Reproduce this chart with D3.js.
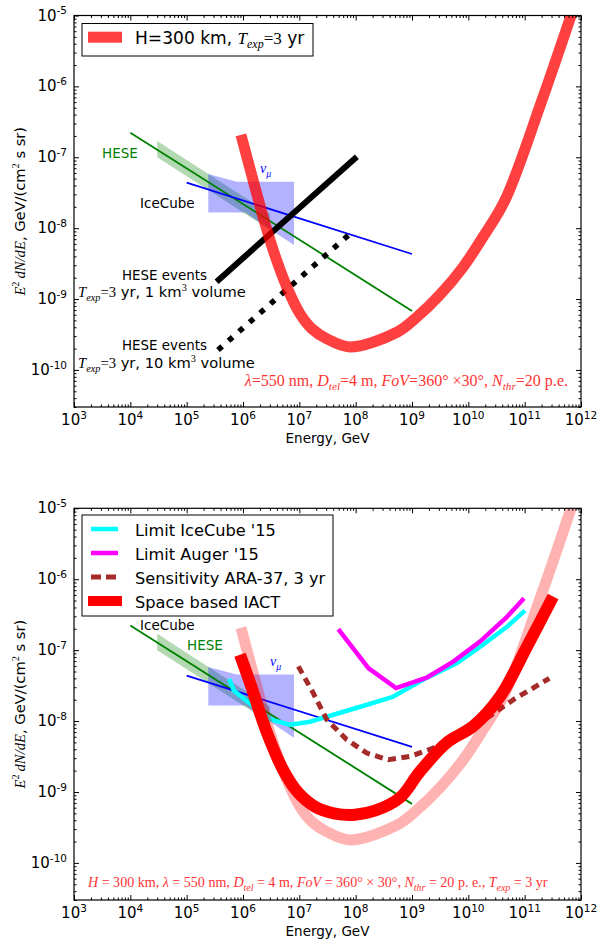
<!DOCTYPE html>
<html><head><meta charset="utf-8">
<script src="https://cdn.jsdelivr.net/npm/d3@7"></script>
<style>body{margin:0;background:#fff}</style>
</head><body>
<script>
// ---------------- data ----------------
const xTickExp=[3,4,5,6,7,8,9,10,11,12];
const yTickExp=[-10,-9,-8,-7,-6,-5];
// HESE best fit line and band
const heseLineE=[1e4,1e9], heseLineF=[2.22e-7,6.8e-10];
const heseBandE=[3e4,3e6,3e6,3e4], heseBandF=[1.7e-7,1.6e-8,9.5e-9,1.0e-7];
// IceCube nu_mu line and band
const numuLineE=[1e5,1e9], numuLineF=[4.38e-8,4.32e-9];
const numuBandE=[2.42e5,7.73e5,8.05e6,8.05e6,1.09e6,2.42e5];
const numuBandF=[5.8e-8,4.53e-8,4.53e-8,5.8e-9,1.66e-8,1.66e-8];
// HESE events, 1 km3 and 10 km3
const hese1E=[3.4e5,1.05e8], hese1F=[1.76e-9,1.02e-7];
const hese10E=[3.6e5,8.6e7], hese10F=[1.91e-10,8.8e-9];
// H=300 km, T=3 yr sensitivity
const h300E=[9.2e5,1.63e6,2.36e6,3.56e6,6.0e6,1.03e7,1.68e7,3.1e7,7.9e7,5.4e8,1.23e9,3.1e9,8.1e9,1.82e10,4.5e10,2.03e11,6.6e11,8.5e11];
const h300F=[2.07e-7,3.8e-8,1.3e-8,4.5e-9,1.48e-9,6.17e-10,3.79e-10,2.74e-10,2.11e-10,3.4e-10,5.6e-10,1.14e-9,2.84e-9,7.5e-9,2.5e-8,6.4e-7,9.8e-6,1.8e-5];
// Space based IACT
const iactE=[8.85e5,1.33e6,2.67e6,5.13e6,9.5e6,1.9e7,4.3e7,9.7e7,2.2e8,6.1e8,1.39e9,4.2e9,1.21e10,3.66e10,1.1e11,3.2e11];
const iactF=[8.6e-8,3.47e-8,6.8e-9,2.07e-9,9.8e-10,6.2e-10,4.96e-10,4.79e-10,5.45e-10,8.3e-10,1.95e-9,5.0e-9,8.4e-9,2.22e-8,1.12e-7,5.7e-7];
// Limit IceCube '15
const icE=[5.65e5,6.92e5,1.04e6,1.85e6,3.27e6,6.8e6,1.55e7,5.3e7,1.59e8,4.6e8,1.57e9,6.3e9,1.82e10,4.9e10,1.01e11];
const icF=[3.94e-8,2.67e-8,2.06e-8,1.44e-8,1.04e-8,8.9e-9,9.8e-9,1.31e-8,1.70e-8,2.20e-8,3.82e-8,6.6e-8,1.19e-7,2.15e-7,3.6e-7];
// Limit Auger '15
const augE=[4.92e7,1.68e8,5.2e8,1.82e9,5.4e9,1.61e10,4.8e10,9.75e10];
const augF=[1.98e-7,5.6e-8,2.92e-8,4.1e-8,6.9e-8,1.32e-7,2.92e-7,5.4e-7];
// Sensitivity ARA-37, 3 yr
const araE=[9.6e6,1.77e7,3.06e7,6.9e7,1.57e8,3.8e8,9.2e8,2.39e9,7.1e9,2.12e10,6.3e10,2.74e11];
const araF=[5.9e-8,2.48e-8,1.05e-8,5.5e-9,3.54e-9,2.85e-9,3.17e-9,4.17e-9,6.8e-9,1.1e-8,2.0e-8,4.0e-8];

// ---------------- drawing ----------------
const W=603,H=939;
const SANS="'DejaVu Sans', sans-serif", SERIF="'Liberation Serif','DejaVu Serif', serif";
const svg=d3.select("body").append("svg").attr("width",W).attr("height",H).style("display","block");
const L=74,R=581;
const x=d3.scaleLog().domain([1e3,1e12]).range([L,R]);
const zip=(a,b)=>a.map((v,i)=>[v,b[i]]);

function rich(g,px,py,parts,size,o={}){
  const draw=s=>{
    const t=g.append("text").attr("x",px).attr("y",py).attr("fill",o.color||"#000")
      .attr("text-anchor",o.anchor||"start").style("font-size",s+"px");
    let off=0;
    for(const p of parts){
      const fs=(p.sub||p.sup)?s*0.7:s;
      const tgt=p.sub?s*0.28:p.sup?-s*0.42:0;
      const sp=t.append("tspan").text(p.t).attr("font-family",p.f==="s"?SANS:SERIF)
        .style("font-size",fs+"px").attr("dy",tgt-off);
      if(p.f==="i") sp.attr("font-style","italic");
      off=tgt;
    }
    return t;
  };
  let t=draw(size);
  if(o.width){const w=t.node().getBBox().width; t.remove(); t=draw(size*o.width/w);}
  return t;
}

const majX=xTickExp.map(e=>Math.pow(10,e));
const minX=[];for(let e=3;e<12;e++)for(let k=2;k<10;k++)minX.push(k*Math.pow(10,e));
const majY=yTickExp.map(e=>Math.pow(10,e));
const minY=[];for(let e=-11;e<-5;e++)for(let k=2;k<10;k++){const v=k*Math.pow(10,e);if(v>=3e-11)minY.push(v);}

function panel(top,bottom,id){
  const y=d3.scaleLog().domain([3e-11,1e-5]).range([bottom,top]);
  const g=svg.append("g");
  svg.append("clipPath").attr("id",id).append("rect").attr("x",L).attr("y",top).attr("width",R-L).attr("height",bottom-top);
  const plot=g.append("g").attr("clip-path",`url(#${id})`);
  const ax=g.append("g");
  const mk=(axis,tr)=>{const a=ax.append("g").attr("transform",tr).call(axis);a.select(".domain").remove();a.selectAll("text").remove();a.selectAll("line").attr("stroke","#000").attr("stroke-width",1);};
  mk(d3.axisBottom(x).tickValues(majX).tickSize(-5),`translate(0,${bottom})`);
  mk(d3.axisBottom(x).tickValues(minX).tickSize(-2.5),`translate(0,${bottom})`);
  mk(d3.axisTop(x).tickValues(majX).tickSize(-5),`translate(0,${top})`);
  mk(d3.axisTop(x).tickValues(minX).tickSize(-2.5),`translate(0,${top})`);
  mk(d3.axisLeft(y).tickValues(majY).tickSize(-5),`translate(${L},0)`);
  mk(d3.axisLeft(y).tickValues(minY).tickSize(-2.5),`translate(${L},0)`);
  mk(d3.axisRight(y).tickValues(majY).tickSize(-5),`translate(${R},0)`);
  mk(d3.axisRight(y).tickValues(minY).tickSize(-2.5),`translate(${R},0)`);
  ax.append("rect").attr("x",L).attr("y",top).attr("width",R-L).attr("height",bottom-top).attr("fill","none").attr("stroke","#000").attr("stroke-width",1.2);
  xTickExp.forEach(e=>rich(ax,x(Math.pow(10,e)),bottom+18,[{t:"10",f:"s"},{t:String(e),f:"s",sup:1}],15,{anchor:"middle"}));
  yTickExp.forEach(e=>rich(ax,67,y(Math.pow(10,e))+5,[{t:"10",f:"s"},{t:String(e),f:"s",sup:1}],15,{anchor:"end"}));
  rich(ax,(L+R)/2,bottom+35.5,[{t:"Energy, GeV",f:"s"}],13.5,{anchor:"middle"});
  const yl=ax.append("g").attr("transform",`translate(25,${(top+bottom)/2}) rotate(-90)`);
  rich(yl,0,0,[{t:"E",f:"i"},{t:"2",f:"r",sup:1},{t:"\u2009dN/dE",f:"i"},{t:", GeV/(cm",f:"s"},{t:"2",f:"r",sup:1},{t:"  s sr)",f:"s"}],13,{anchor:"middle",width:170});
  return {y,plot,ax};
}

function lineGen(y,curve){return d3.line().x(d=>x(d[0])).y(d=>y(d[1])).curve(curve||d3.curveLinear);}
const smooth=d3.curveCatmullRom.alpha(0.5);

// ---- top panel ----
const P1=panel(15.5,407,"c1");
{
  const {y,plot,ax}=P1;
  plot.append("path").attr("d",lineGen(y)(zip(heseBandE,heseBandF))+"Z").attr("fill","green").attr("fill-opacity",0.3);
  plot.append("path").attr("d",lineGen(y)(zip(numuBandE,numuBandF))+"Z").attr("fill","blue").attr("fill-opacity",0.3);
  plot.append("path").attr("d",lineGen(y)(zip(heseLineE,heseLineF))).attr("stroke","green").attr("stroke-width",1.8).attr("fill","none");
  plot.append("path").attr("d",lineGen(y)(zip(numuLineE,numuLineF))).attr("stroke","blue").attr("stroke-width",1.8).attr("fill","none");
  plot.append("path").attr("d",lineGen(y)(zip(hese1E,hese1F))).attr("stroke","#000").attr("stroke-width",6).attr("fill","none");
  plot.append("path").attr("d",lineGen(y)(zip(hese10E,hese10F))).attr("stroke","#000").attr("stroke-width",5.5).attr("stroke-dasharray","5.5,8.5").attr("fill","none");
  plot.append("path").attr("d",lineGen(y,smooth)(zip(h300E,h300F))).attr("stroke","#ff0000").attr("stroke-opacity",0.75).attr("stroke-width",11).attr("fill","none");
  // labels
  rich(ax,102,158,[{t:"HESE",f:"s"}],13.5,{color:"green"});
  rich(ax,140,208,[{t:"IceCube",f:"s"}],13.5);
  rich(ax,260,173,[{t:"ν",f:"i"},{t:"μ",f:"i",sub:1}],14,{color:"blue"});
  rich(ax,122,280,[{t:"HESE events",f:"s"}],13.5,{width:85});
  rich(ax,78,297,[{t:"T",f:"i"},{t:"exp",f:"i",sub:1},{t:"=3",f:"r"},{t:" yr, 1 km",f:"s"},{t:"3",f:"r",sup:1},{t:"  volume",f:"s"}],13.5,{width:168});
  rich(ax,122,350,[{t:"HESE events",f:"s"}],13.5,{width:85});
  rich(ax,78,368,[{t:"T",f:"i"},{t:"exp",f:"i",sub:1},{t:"=3",f:"r"},{t:" yr, 10 km",f:"s"},{t:"3",f:"r",sup:1},{t:"  volume",f:"s"}],13.5,{width:177});
  rich(ax,568,386,[{t:"λ",f:"i"},{t:"=550 nm, ",f:"r"},{t:"D",f:"i"},{t:"tel",f:"i",sub:1},{t:"=4 m, ",f:"r"},{t:"FoV",f:"i"},{t:"=360° ×30°, ",f:"r"},{t:"N",f:"i"},{t:"thr",f:"i",sub:1},{t:"=20 p.e.",f:"r"}],12.5,{anchor:"end",color:"#ff3333",width:325});
  // legend
  ax.append("rect").attr("x",82).attr("y",23.5).attr("width",231).attr("height",32.5).attr("fill","#fff").attr("stroke","#000").attr("stroke-width",1);
  ax.append("rect").attr("x",88).attr("y",31.7).attr("width",34).attr("height",11).attr("fill","#ff0000").attr("fill-opacity",0.75);
  rich(ax,135,43.5,[{t:"H=300 km, ",f:"s"},{t:"T",f:"i"},{t:"exp",f:"i",sub:1},{t:"=3",f:"r"},{t:" yr",f:"s"}],16,{width:170});
}

// ---- bottom panel ----
const P2=panel(508.3,900,"c2");
{
  const {y,plot,ax}=P2;
  plot.append("path").attr("d",lineGen(y)(zip(heseBandE,heseBandF))+"Z").attr("fill","green").attr("fill-opacity",0.3);
  plot.append("path").attr("d",lineGen(y)(zip(numuBandE,numuBandF))+"Z").attr("fill","blue").attr("fill-opacity",0.3);
  plot.append("path").attr("d",lineGen(y)(zip(heseLineE,heseLineF))).attr("stroke","green").attr("stroke-width",1.8).attr("fill","none");
  plot.append("path").attr("d",lineGen(y)(zip(numuLineE,numuLineF))).attr("stroke","blue").attr("stroke-width",1.8).attr("fill","none");
  plot.append("path").attr("d",lineGen(y)(zip(icE,icF))).attr("stroke","#00ffff").attr("stroke-width",4.5).attr("fill","none");
  plot.append("path").attr("d",lineGen(y)(zip(augE,augF))).attr("stroke","#ff00ff").attr("stroke-width",4.5).attr("fill","none");
  plot.append("path").attr("d",lineGen(y)(zip(araE,araF))).attr("stroke","#a52a2a").attr("stroke-width",5).attr("stroke-dasharray","8,5.5").attr("fill","none");
  plot.append("path").attr("d",lineGen(y,smooth)(zip(h300E,h300F))).attr("stroke","#ff0000").attr("stroke-opacity",0.3).attr("stroke-width",11).attr("fill","none");
  plot.append("path").attr("d",lineGen(y,smooth)(zip(iactE,iactF))).attr("stroke","#ff0000").attr("stroke-width",12).attr("fill","none");
  rich(ax,140,630,[{t:"IceCube",f:"s"}],13.5);
  rich(ax,187,650,[{t:"HESE",f:"s"}],13.5,{color:"green"});
  rich(ax,270,666,[{t:"ν",f:"i"},{t:"μ",f:"i",sub:1}],14,{color:"blue"});
  rich(ax,88,887,[{t:"H",f:"i"},{t:" = 300 km,  ",f:"r"},{t:"λ",f:"i"},{t:" = 550 nm,  ",f:"r"},{t:"D",f:"i"},{t:"tel",f:"i",sub:1},{t:" = 4 m,  ",f:"r"},{t:"FoV",f:"i"},{t:" = 360° ×  30°,  ",f:"r"},{t:"N",f:"i"},{t:"thr",f:"i",sub:1},{t:" = 20 p. e.,  ",f:"r"},{t:"T",f:"i"},{t:"exp",f:"i",sub:1},{t:" = 3 yr",f:"r"}],12.5,{color:"#ff3333",width:462});
  // legend
  ax.append("rect").attr("x",82).attr("y",515).attr("width",251).attr("height",101).attr("fill","#fff").attr("stroke","#000").attr("stroke-width",1);
  const leg=[
    {c:"#00ffff",w:4.5,d:null,t:"Limit IceCube '15",y:529},
    {c:"#ff00ff",w:4.5,d:null,t:"Limit Auger '15",y:553},
    {c:"#a52a2a",w:5,d:"10,5",t:"Sensitivity ARA-37, 3 yr",y:577},
    {c:"#ff0000",w:10,d:null,t:"Space based IACT",y:601}];
  let fs=null;
  leg.forEach((l,i)=>{
    ax.append("line").attr("x1",i===3?88:91).attr("x2",i===3?122:118).attr("y1",l.y).attr("y2",l.y).attr("stroke",l.c).attr("stroke-width",l.w).attr("stroke-dasharray",l.d);
    if(i===0){const t=rich(ax,135,l.y+6.5,[{t:l.t,f:"s"}],16,{width:141});fs=parseFloat(t.style("font-size"));}
    else rich(ax,135,l.y+6.5,[{t:l.t,f:"s"}],fs);
  });
}
</script>
</body></html>
